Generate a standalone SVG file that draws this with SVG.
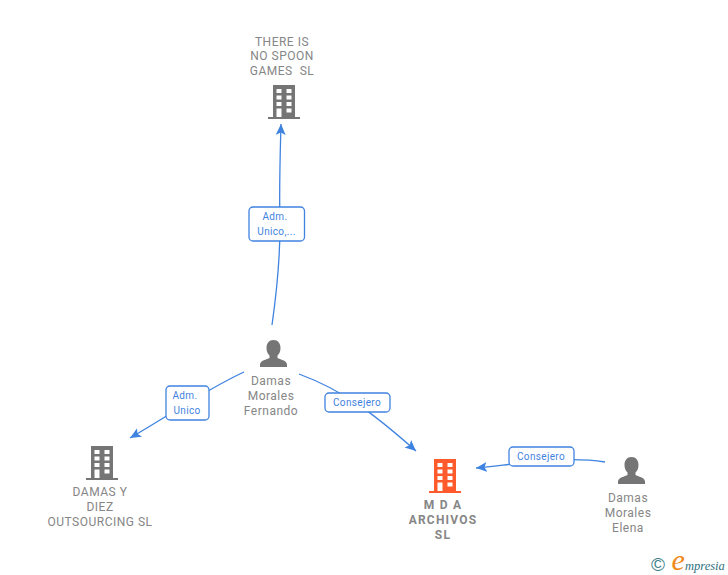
<svg xmlns="http://www.w3.org/2000/svg" width="728" height="575" viewBox="0 0 728 575">
<style>
.n{font-family:Roboto,"Liberation Sans",sans-serif;font-size:12px;fill:#868686;text-anchor:middle;letter-spacing:.5px;white-space:pre}
.b{font-weight:700;letter-spacing:1.2px}
.l{font-family:Roboto,"Liberation Sans",sans-serif;font-size:10px;fill:#3f83e0;text-anchor:middle;letter-spacing:.35px}
.e{fill:none;stroke:#3f83e0;stroke-width:1.3}
.r{fill:#fff;stroke:#3f83e0;stroke-width:1.3}
.w{fill:#fff}
</style>
<defs>
<marker id="a" markerWidth="12" markerHeight="12" refX="11" refY="5" orient="auto" markerUnits="userSpaceOnUse"><path d="M0 0L11 5L0 10L2.500 5Z" fill="#3f83e0"/></marker>
<g id="bld"><path d="M5 0H27V32H32V34H0V32H5Z"/><g class="w"><rect x="8.500" y="4" width="5" height="4"/><rect x="18.500" y="4" width="5" height="4"/><rect x="8.500" y="10.500" width="5" height="4"/><rect x="18.500" y="10.500" width="5" height="4"/><rect x="8.500" y="17" width="5" height="4"/><rect x="18.500" y="17" width="5" height="4"/><rect x="8.500" y="23.500" width="5" height="8.500"/><rect x="18.500" y="23.500" width="5" height="4"/></g></g>
<path id="per" d="M13.500 0C18 0 20.500 3.500 20.500 8C20.500 11 19.500 13.500 17.500 15.500V18C20 19.500 27 20.500 27 24.500V27H0V24.500C0 20.500 7 19.500 9.500 18V15.500C7.500 13.500 6.500 11 6.500 8C6.500 3.500 9 0 13.500 0Z"/>
</defs>
<g id="connectors">
<path class="e" d="M272 325C277 290 280 260 280 225C279 190 280 160 281 124" marker-end="url(#a)"/>
<path class="e" d="M244 372C205 390 170 415 130 438" marker-end="url(#a)"/>
<path class="e" d="M299 374C342 390 372 412 416 451" marker-end="url(#a)"/>
<path class="e" d="M605 462C565 456 525 463 476 468" marker-end="url(#a)"/>
</g>
<g id="node-there-is"><use href="#bld" x="268" y="85" fill="#757575"/><text class="n"><tspan x="282" y="46">THERE IS</tspan><tspan x="282" y="60">NO SPOON</tspan><tspan x="282" y="75">GAMES  SL</tspan></text></g>
<g id="node-fernando"><use href="#per" x="260" y="340" fill="#757575"/><text class="n"><tspan x="271" y="385">Damas</tspan><tspan x="271" y="400">Morales</tspan><tspan x="271" y="415">Fernando</tspan></text></g>
<g id="node-damas-diez"><use href="#bld" x="86" y="446" fill="#757575"/><text class="n"><tspan x="100" y="496">DAMAS Y</tspan><tspan x="100" y="511">DIEZ</tspan><tspan x="100" y="526">OUTSOURCING SL</tspan></text></g>
<g id="node-mda"><use href="#bld" x="429" y="459" fill="#ff5a2b"/><text class="n b"><tspan x="443" y="509">M D A</tspan><tspan x="443" y="524">ARCHIVOS</tspan><tspan x="443" y="539">SL</tspan></text></g>
<g id="node-elena"><use href="#per" x="618" y="457" fill="#757575"/><text class="n"><tspan x="628" y="502">Damas</tspan><tspan x="628" y="517">Morales</tspan><tspan x="628" y="532">Elena</tspan></text></g>
<g id="label-1"><rect class="r" x="249" y="207" width="55.500" height="34" rx="4"/><text class="l"><tspan x="275" y="220">Adm.</tspan><tspan x="276.500" y="235">Unico,...</tspan></text></g>
<g id="label-2"><rect class="r" x="166" y="386" width="43" height="34" rx="4"/><text class="l"><tspan x="185" y="399">Adm.</tspan><tspan x="187" y="414">Unico</tspan></text></g>
<g id="label-3"><rect class="r" x="325" y="393" width="65" height="19" rx="4"/><text class="l" x="357" y="406">Consejero</text></g>
<g id="label-4"><rect class="r" x="509" y="447" width="65" height="19" rx="4"/><text class="l" x="541" y="460">Consejero</text></g>
<g id="logo"><text x="658" y="571" font-family="Liberation Sans,sans-serif" font-size="19" fill="#3d7f8c" text-anchor="middle">©</text><text x="671.500" y="570" font-family="Liberation Serif,serif" font-style="italic" font-size="30" fill="#f08a1d">e</text><text x="685" y="570" font-family="Liberation Serif,serif" font-style="italic" font-size="12.500" fill="#2f6f80">mpresia</text></g>
</svg>
